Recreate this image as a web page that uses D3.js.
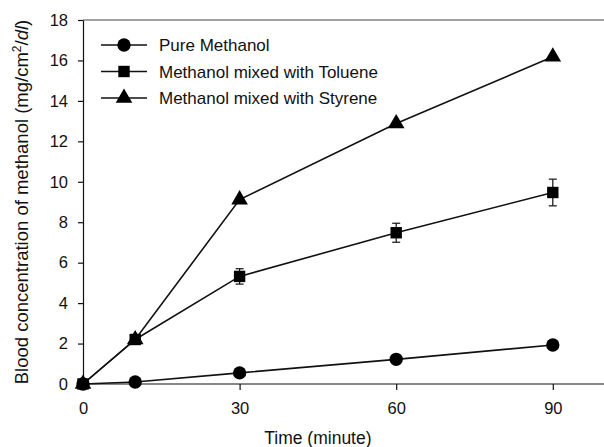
<!DOCTYPE html>
<meta charset="utf-8">
<style>
body { margin: 0; background: #fff; }
text { font-family: "Liberation Sans", Arial, sans-serif; fill: #111; }
.axis path, .axis line { stroke: #111; stroke-width: 1.2; }
.axis text { font-size: 16.5px; }
</style>
<body>
<script src="https://d3js.org/d3.v7.min.js"></script>
<script>
// time points (minutes)
var times = [0, 10, 30, 60, 90];

var pureMethanol = [0, 0.1, 0.55, 1.22, 1.93];
var tolueneMix   = [0, 2.2, 5.32, 7.48, 9.47];
var tolueneErr   = [0, 0, 0.38, 0.47, 0.66];
var styreneMix   = [0, 2.2, 9.12, 12.88, 16.18];

var xTicks = [0, 30, 60, 90];
var yTicks = [0, 2, 4, 6, 8, 10, 12, 14, 16, 18];

var seriesNames = ["Pure Methanol", "Methanol mixed with Toluene", "Methanol mixed with Styrene"];
var seriesShapes = [d3.symbolCircle, d3.symbolSquare, d3.symbolTriangle];
var seriesSizes = [140, 130, 120];

var w = 604, h = 447;
var margin = {top: 20, right: 0, bottom: 63, left: 83};

var svg = d3.select("body").append("svg")
    .attr("width", w)
    .attr("height", h);

var x = d3.scaleLinear().domain([0, 100]).range([margin.left, margin.left + 522]);
var y = d3.scaleLinear().domain([0, 18]).range([h - margin.bottom, margin.top]);

// top frame line
svg.append("line")
    .attr("x1", x(0)).attr("x2", w)
    .attr("y1", y(18)).attr("y2", y(18))
    .attr("stroke", "#444").attr("stroke-width", 1.2);

svg.append("g")
    .attr("class", "axis")
    .attr("transform", "translate(0," + y(0) + ")")
    .call(d3.axisBottom(x).tickValues(xTicks).tickSize(6).tickPadding(12).tickSizeOuter(0))
    .call(function(g) { g.select(".domain").attr("d", "M" + x(0) + ",0H" + w); });

svg.append("g")
    .attr("class", "axis")
    .attr("transform", "translate(" + x(0) + ",0)")
    .call(d3.axisLeft(y).tickValues(yTicks).tickSize(5).tickPadding(10).tickSizeOuter(0));

// axis titles
svg.append("text")
    .attr("x", (x(0) + x(90)) / 2)
    .attr("y", 444)
    .attr("text-anchor", "middle")
    .style("font-size", "17.5px")
    .text("Time (minute)");

var yt = svg.append("text")
    .attr("transform", "translate(28," + (y(9)) + ") rotate(-90)")
    .attr("text-anchor", "middle")
    .style("font-size", "18.5px");
yt.append("tspan").text("Blood concentration of methanol (mg/cm");
yt.append("tspan").attr("dy", -7).style("font-size", "12px").text("2");
yt.append("tspan").attr("dy", 7).text("/");
yt.append("tspan").style("font-style", "italic").text("dl");
yt.append("tspan").text(")");

var allSeries = [pureMethanol, tolueneMix, styreneMix];

var line = d3.line()
    .x(function(d, i) { return x(times[i]); })
    .y(function(d) { return y(d); });

allSeries.forEach(function(vals, k) {
  svg.append("path")
      .attr("d", line(vals))
      .attr("fill", "none")
      .attr("stroke", "#111")
      .attr("stroke-width", 1.6);
});

// error bars for toluene
times.forEach(function(t, i) {
  if (!tolueneErr[i]) return;
  var g = svg.append("g").attr("stroke", "#111").attr("stroke-width", 1.2);
  var lo = y(tolueneMix[i] - tolueneErr[i]), hi = y(tolueneMix[i] + tolueneErr[i]);
  g.append("line").attr("x1", x(t)).attr("x2", x(t)).attr("y1", lo).attr("y2", hi);
  g.append("line").attr("x1", x(t) - 4).attr("x2", x(t) + 4).attr("y1", lo).attr("y2", lo);
  g.append("line").attr("x1", x(t) - 4).attr("x2", x(t) + 4).attr("y1", hi).attr("y2", hi);
});

allSeries.forEach(function(vals, k) {
  svg.append("g").selectAll("path")
      .data(vals)
      .enter().append("path")
      .attr("transform", function(d, i) { return "translate(" + x(times[i]) + "," + y(d) + ")"; })
      .attr("d", d3.symbol().type(seriesShapes[k]).size(seriesSizes[k]))
      .attr("fill", "#000");
});

// legend
var legend = svg.append("g");
seriesNames.forEach(function(name, k) {
  var ly = 45 + k * 26.5;
  legend.append("line")
      .attr("x1", 101).attr("x2", 147)
      .attr("y1", ly).attr("y2", ly)
      .attr("stroke", "#111").attr("stroke-width", 1.6);
  legend.append("path")
      .attr("transform", "translate(124," + ly + ")")
      .attr("d", d3.symbol().type(seriesShapes[k]).size(seriesSizes[k]))
      .attr("fill", "#000");
  legend.append("text")
      .attr("x", 159).attr("y", ly + 6)
      .style("font-size", "17px")
      .text(name);
});
</script>
